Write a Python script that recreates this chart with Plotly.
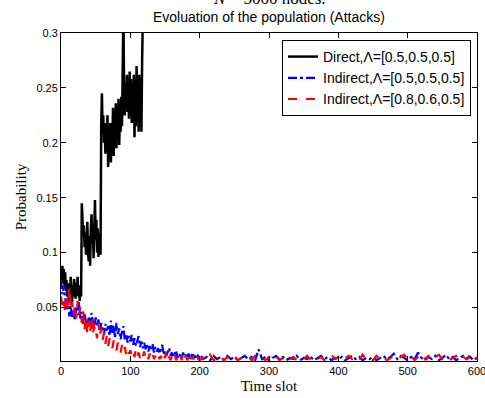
import plotly.graph_objects as go

# ---- data ----
direct_t_step = 1
direct = [0.080, 0.072, 0.088, 0.078, 0.085, 0.070, 0.082, 0.065, 0.075, 0.060,
          0.068, 0.058, 0.072, 0.062, 0.078, 0.064, 0.055, 0.070, 0.060, 0.076,
          0.066, 0.058, 0.072, 0.063, 0.078, 0.060, 0.070, 0.056, 0.066, 0.060,
          0.145, 0.130, 0.115, 0.125, 0.105, 0.118, 0.098, 0.110, 0.128, 0.100,
          0.092, 0.115, 0.088, 0.120, 0.135, 0.108, 0.125, 0.095, 0.140, 0.148,
          0.112, 0.130, 0.100, 0.122, 0.096, 0.118, 0.105, 0.098,
          0.215, 0.245, 0.210, 0.225, 0.200, 0.218, 0.190, 0.212, 0.198, 0.225,
          0.178, 0.205, 0.192, 0.218, 0.182, 0.210, 0.196, 0.232, 0.188, 0.215,
          0.200, 0.236, 0.195, 0.222, 0.205, 0.240, 0.198, 0.228, 0.210, 0.242,
          0.215, 0.250,
          0.320, 0.245, 0.225, 0.255, 0.232, 0.262, 0.228, 0.250, 0.222, 0.265,
          0.235, 0.258, 0.218, 0.248, 0.228, 0.262, 0.205, 0.240, 0.215, 0.270,
          0.225, 0.255, 0.210, 0.262, 0.220, 0.250, 0.210, 0.275, 0.320, 0.350]

# early part (t = 0..198, every 2 slots)
early_step = 2
indirect_a_early = [0.075, 0.062, 0.070, 0.055, 0.048, 0.058, 0.042, 0.052, 0.040, 0.047,
                    0.038, 0.050, 0.043, 0.055, 0.040, 0.046, 0.035, 0.044, 0.038, 0.030,
                    0.042, 0.034, 0.045, 0.036, 0.030, 0.041, 0.033, 0.039, 0.028, 0.036,
                    0.031, 0.025, 0.035, 0.029, 0.033, 0.024, 0.038, 0.027, 0.034, 0.022,
                    0.036, 0.026, 0.031, 0.021, 0.028, 0.033, 0.020, 0.026, 0.018, 0.024,
                    0.019, 0.025, 0.016, 0.022, 0.015, 0.021, 0.024, 0.014, 0.019, 0.013,
                    0.018, 0.012, 0.016, 0.010, 0.015, 0.011, 0.017, 0.009, 0.014, 0.010,
                    0.013, 0.008, 0.012, 0.016, 0.007, 0.011, 0.006, 0.010, 0.013, 0.006,
                    0.009, 0.005, 0.008, 0.011, 0.004, 0.008, 0.006, 0.003, 0.009, 0.005,
                    0.007, 0.004, 0.008, 0.003, 0.006, 0.009, 0.004, 0.006, 0.003, 0.007]
indirect_b_early = [0.060, 0.052, 0.058, 0.045, 0.062, 0.050, 0.068, 0.048, 0.055, 0.042,
                    0.052, 0.040, 0.056, 0.044, 0.050, 0.036, 0.047, 0.030, 0.041, 0.026,
                    0.038, 0.028, 0.042, 0.025, 0.035, 0.030, 0.022, 0.036, 0.024, 0.031,
                    0.020, 0.027, 0.017, 0.024, 0.015, 0.022, 0.018, 0.013, 0.020, 0.016,
                    0.011, 0.018, 0.012, 0.009, 0.016, 0.010, 0.014, 0.007, 0.012, 0.008,
                    0.011, 0.006, 0.010, 0.005, 0.012, 0.006, 0.009, 0.004, 0.008, 0.005,
                    0.010, 0.004, 0.007, 0.003, 0.008, 0.005, 0.009, 0.003, 0.006, 0.004,
                    0.008, 0.003, 0.006, 0.002, 0.007, 0.004, 0.010, 0.003, 0.005, 0.002,
                    0.006, 0.004, 0.008, 0.002, 0.005, 0.003, 0.007, 0.002, 0.009, 0.004,
                    0.006, 0.002, 0.005, 0.008, 0.003, 0.006, 0.002, 0.004, 0.007, 0.003]

# tail (t = 200..600, every 5 slots)
tail_start = 200
tail_step = 5
indirect_a_tail = [0.007, 0.003, 0.005, 0.002, 0.006, 0.003, 0.005, 0.002, 0.006, 0.003,
                   0.005, 0.002, 0.004, 0.006, 0.003, 0.005, 0.002, 0.012, 0.003, 0.005,
                   0.002, 0.004, 0.006, 0.003, 0.005, 0.002, 0.004, 0.003, 0.006, 0.002,
                   0.004, 0.003, 0.005, 0.002, 0.004, 0.006, 0.003, 0.005, 0.002, 0.004,
                   0.003, 0.005, 0.002, 0.004, 0.006, 0.003, 0.005, 0.002, 0.004, 0.003,
                   0.005, 0.002, 0.004, 0.006, 0.003, 0.005, 0.008, 0.003, 0.006, 0.004,
                   0.002, 0.005, 0.003, 0.009, 0.004, 0.002, 0.005, 0.003, 0.006, 0.002,
                   0.004, 0.007, 0.003, 0.005, 0.002, 0.004, 0.006, 0.003, 0.005, 0.002,
                   0.004]
indirect_b_tail = [0.002, 0.005, 0.003, 0.007, 0.002, 0.004, 0.006, 0.002, 0.005, 0.003,
                   0.006, 0.002, 0.004, 0.003, 0.005, 0.002, 0.006, 0.003, 0.004, 0.002,
                   0.005, 0.003, 0.006, 0.002, 0.004, 0.007, 0.003, 0.005, 0.002, 0.004,
                   0.003, 0.006, 0.002, 0.004, 0.003, 0.005, 0.002, 0.004, 0.007, 0.003,
                   0.005, 0.002, 0.004, 0.006, 0.003, 0.005, 0.002, 0.007, 0.003, 0.004,
                   0.002, 0.006, 0.003, 0.005, 0.002, 0.004, 0.006, 0.003, 0.005, 0.007,
                   0.003, 0.006, 0.002, 0.005, 0.008, 0.003, 0.006, 0.002, 0.005, 0.007,
                   0.003, 0.005, 0.002, 0.004, 0.006, 0.002, 0.005, 0.003, 0.007, 0.002,
                   0.005]

names = ["Direct,\u039b=[0.5,0.5,0.5]",
         "Indirect,\u039b=[0.5,0.5,0.5]",
         "Indirect,\u039b=[0.8,0.6,0.5]"]
x_ticks = [0, 100, 200, 300, 400, 500, 600]
y_ticks = [0.05, 0.1, 0.15, 0.2, 0.25, 0.3]
y_tick_text = ["0.05", "0.1", "0.15", "0.2", "0.25", "0.3"]


def times(n, start, step):
    return [start + i * step for i in range(n)]


t_direct = times(len(direct), 0, direct_t_step)
t_a = times(len(indirect_a_early), 0, early_step) + times(len(indirect_a_tail), tail_start, tail_step)
t_b = times(len(indirect_b_early), 0, early_step) + times(len(indirect_b_tail), tail_start, tail_step)

fig = go.Figure()
fig.add_trace(go.Scatter(x=t_direct, y=direct, mode="lines", name=names[0],
                         line=dict(color="black", width=2.5)))
fig.add_trace(go.Scatter(x=t_a, y=indirect_a_early + indirect_a_tail, mode="lines", name=names[1],
                         line=dict(color="blue", width=2.2, dash="dashdot")))
fig.add_trace(go.Scatter(x=t_b, y=indirect_b_early + indirect_b_tail, mode="lines", name=names[2],
                         line=dict(color="red", width=2.2, dash="dash")))

axis_common = dict(showline=True, linecolor="black", linewidth=1, mirror="ticks",
                   ticks="inside", ticklen=5, tickcolor="black", showgrid=False,
                   zeroline=False, automargin=False,
                   tickfont=dict(family="Liberation Sans", size=11, color="black"))

fig.update_layout(
    width=485, height=398,
    margin=dict(l=61, r=8, t=33, b=37, autoexpand=False),
    paper_bgcolor="white", plot_bgcolor="white",
    showlegend=True,
    legend=dict(x=0.9856, y=0.9787, xanchor="right", yanchor="top",
                bgcolor="white", bordercolor="black", borderwidth=1,
                font=dict(family="Liberation Sans", size=14, color="black"),
                tracegroupgap=0, itemwidth=30),
    xaxis=dict(range=[0, 600], tickvals=x_ticks, ticklabeloverflow="allow",
               title=dict(text="Time slot", standoff=4,
                          font=dict(family="Liberation Serif", size=15, color="black")),
               **axis_common),
    yaxis=dict(range=[0.0013, 0.3], tickvals=y_ticks, ticktext=y_tick_text,
               title=dict(text="Probability", standoff=6,
                          font=dict(family="Liberation Serif", size=15, color="black")),
               **axis_common),
    annotations=[
        dict(text="Evoluation of the population (Attacks)", xref="paper", yref="paper",
             x=0.5, y=1.0488, xanchor="center", yanchor="middle", showarrow=False,
             font=dict(family="Liberation Sans", size=14, color="black")),
        dict(text="<i>N</i> = 5000 nodes.", xref="paper", yref="paper",
             x=0.5, y=1.104, xanchor="center", yanchor="middle", showarrow=False,
             font=dict(family="Liberation Serif", size=17, color="black")),
    ],
)

fig.write_html("out.html")
